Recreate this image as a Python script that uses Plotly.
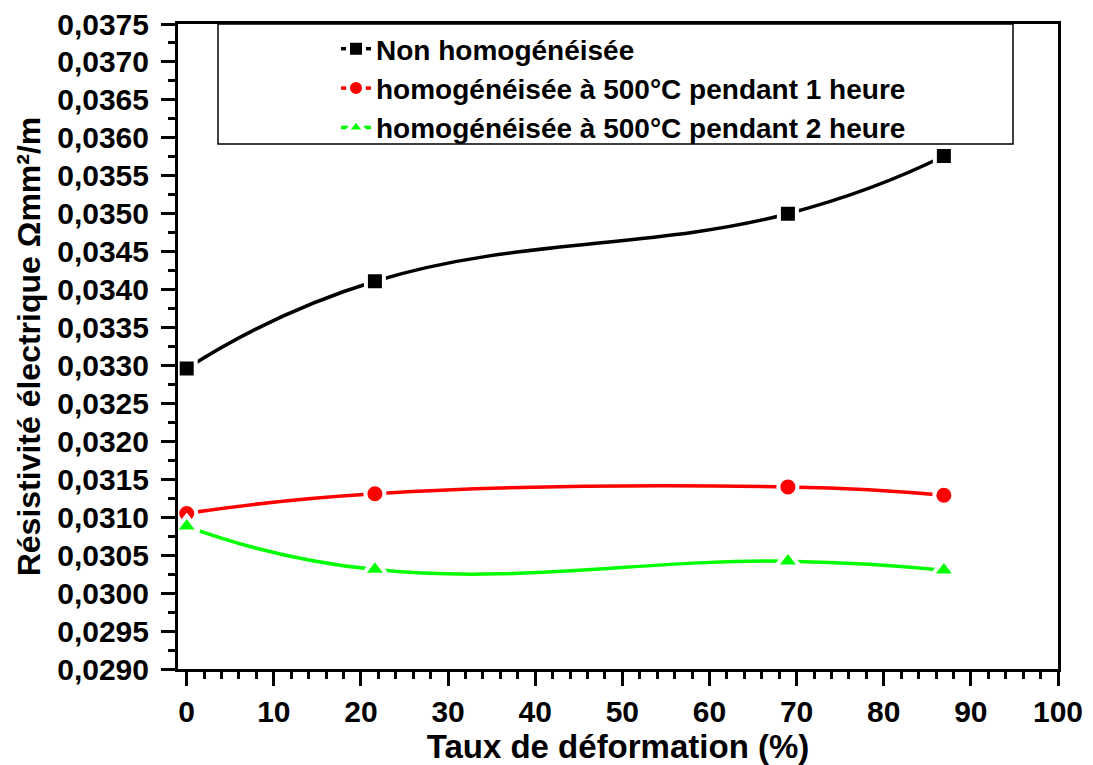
import plotly.graph_objects as go

# Deformation rate (%) and electrical resistivity (Ω·mm²/m)
deformation = [0.0, 21.6, 69.0, 86.9]
non_homog = [0.03296, 0.03411, 0.03500, 0.03576]
homog_1h = [0.03105, 0.03131, 0.03140, 0.03129]
homog_2h = [0.03088, 0.03031, 0.03042, 0.03030]

series_names = [
    "Non homogénéisée",
    "homogénéisée à 500°C pendant 1 heure",
    "homogénéisée à 500°C pendant 2 heure",
]
series_values = [non_homog, homog_1h, homog_2h]
series_colors = ["#000000", "#ff0000", "#00ff00"]
series_symbols = ["square", "circle", "triangle-up"]
series_sizes = [18, 19, 21]

FONT = "Liberation Sans, Arial, sans-serif"

fig = go.Figure()
for name, vals, col, sym, sz in zip(series_names, series_values, series_colors,
                                    series_symbols, series_sizes):
    fig.add_trace(go.Scatter(
        x=deformation, y=vals, name=name,
        mode="lines+markers",
        line=dict(color=col, width=3.5, shape="spline", smoothing=1.3),
        marker=dict(symbol=sym, size=sz, color=col,
                    line=dict(color="white", width=4)),
    ))

# legend frame
fig.add_shape(type="rect", xref="paper", yref="paper",
              x0=(218 - 178) / 880, x1=(1013 - 178) / 880,
              y0=(669 - 144) / 645, y1=1.0,
              line=dict(color="black", width=1.5), fillcolor="white",
              layer="below")

axis_common = dict(
    showline=True, linecolor="black", linewidth=3, mirror=True,
    ticks="outside", ticklen=14, tickwidth=3, tickcolor="black",
    showgrid=False, zeroline=False, automargin=False,
    tickfont=dict(family=FONT, size=30, color="black", weight="bold"),
)

fig.update_xaxes(
    range=[-1, 100], dtick=10, tick0=0,
    minor=dict(dtick=2, ticks="outside", ticklen=7, tickwidth=2.5, tickcolor="black"),
    title=dict(text="Taux de déformation (%)", standoff=4,
               font=dict(family=FONT, size=33, color="black", weight="bold")),
    **axis_common,
)
fig.update_yaxes(
    range=[0.0290, 0.0375], dtick=0.0005, tick0=0.0290, tickformat=".4f",
    minor=dict(dtick=0.00025, ticks="outside", ticklen=7, tickwidth=2.5, tickcolor="black"),
    ticklabelstandoff=6,
    title=dict(text="Résistivité électrique Ωmm²/m", standoff=8,
               font=dict(family=FONT, size=32, color="black", weight="bold")),
    **axis_common,
)

fig.update_layout(
    width=1093, height=765,
    margin=dict(l=178, r=35, t=24, b=96, autoexpand=False),
    paper_bgcolor="white", plot_bgcolor="white",
    separators=", ",
    showlegend=True,
    legend=dict(
        x=(336 - 178) / 880, y=1.0, xanchor="left", yanchor="top",
        bgcolor="rgba(0,0,0,0)", borderwidth=0,
        font=dict(family=FONT, size=28, color="black", weight="bold"),
        itemsizing="trace",
    ),
)

fig.write_html("out.html")
